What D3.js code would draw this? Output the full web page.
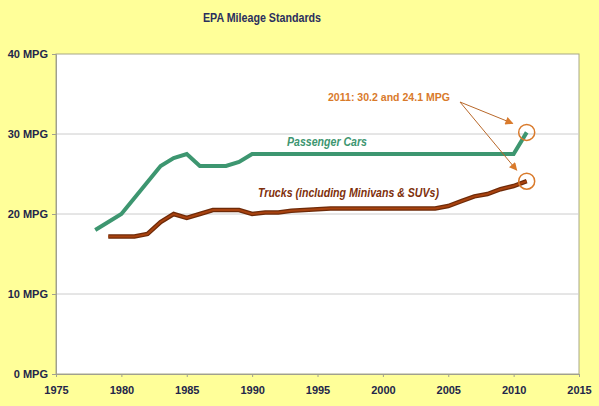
<!DOCTYPE html>
<html>
<head>
<meta charset="utf-8">
<script src="https://cdn.jsdelivr.net/npm/d3@7"></script>
<style>
  body { margin: 0; background: #ffff99; }
  svg { display: block; }
  text { font-family: "Liberation Sans", Arial, sans-serif; }
</style>
</head>
<body>
<div id="chart"></div>
<script>
// data
const carYears = [1978, 1979, 1980, 1981, 1982, 1983, 1984, 1985, 1986, 1987, 1988, 1989, 1990,
    1991, 1992, 1993, 1994, 1995, 1996, 1997, 1998, 1999, 2000, 2001, 2002, 2003, 2004, 2005,
    2006, 2007, 2008, 2009, 2010, 2011];
const carMpg = [18.0, 19.0, 20.0, 22.0, 24.0, 26.0, 27.0, 27.5, 26.0, 26.0, 26.0, 26.5, 27.5,
    27.5, 27.5, 27.5, 27.5, 27.5, 27.5, 27.5, 27.5, 27.5, 27.5, 27.5, 27.5, 27.5, 27.5, 27.5,
    27.5, 27.5, 27.5, 27.5, 27.5, 30.2];

const truckYears = [1979, 1980, 1981, 1982, 1983, 1984, 1985, 1986, 1987, 1988, 1989, 1990,
    1991, 1992, 1993, 1994, 1995, 1996, 1997, 1998, 1999, 2000, 2001, 2002, 2003, 2004, 2005,
    2006, 2007, 2008, 2009, 2010, 2011];
const truckMpg = [17.2, 17.2, 17.2, 17.5, 19.0, 20.0, 19.5, 20.0, 20.5, 20.5, 20.5, 20.0,
    20.2, 20.2, 20.4, 20.5, 20.6, 20.7, 20.7, 20.7, 20.7, 20.7, 20.7, 20.7, 20.7, 20.7, 21.0,
    21.6, 22.2, 22.5, 23.1, 23.5, 24.1];

const xTicks = [1975, 1980, 1985, 1990, 1995, 2000, 2005, 2010, 2015];
const yTicks = [0, 10, 20, 30, 40];

const W = 599, H = 406;
const margins = { top: 54, right: 20, bottom: 32, left: 56 };
const width = W - margins.left - margins.right;
const height = H - margins.top - margins.bottom;

const svg = d3.select("#chart")
    .append("svg")
        .attr("width", W)
        .attr("height", H);

svg.append("rect")
    .attr("width", W).attr("height", H)
    .attr("fill", "#ffff99");

// the source picture looks squeezed sideways, so the texts get a fixed length
svg.append("text")
    .attr("x", 203)
    .attr("y", 22)
    .attr("font-size", "12px")
    .attr("font-weight", "bold")
    .attr("fill", "#2b2f5e")
    .attr("textLength", 118)
    .attr("lengthAdjust", "spacingAndGlyphs")
    .text("EPA Mileage Standards");

const g = svg.append("g")
    .attr("transform", `translate(${margins.left}, ${margins.top})`);

const x = d3.scaleLinear().domain([1975, 2015]).range([0, width]);
const y = d3.scaleLinear().domain([0, 40]).range([height, 0]);

// plot area
g.append("rect")
    .attr("width", width).attr("height", height)
    .attr("fill", "#ffffff")
    .attr("stroke", "#a8a888")
    .attr("stroke-width", 1);

// gridlines
g.selectAll(".grid")
    .data(yTicks.filter(d => d > 0 && d < 40))
    .enter()
    .append("line")
        .attr("x1", 0).attr("x2", width)
        .attr("y1", d => y(d)).attr("y2", d => y(d))
        .attr("stroke", "#cccccc")
        .attr("stroke-width", 1);

// axes
const yAxis = g.append("g")
    .call(d3.axisLeft(y).tickValues(yTicks).tickSize(4).tickPadding(4)
        .tickFormat(d => `${d} MPG`));
const xAxis = g.append("g")
    .attr("transform", `translate(0, ${height})`)
    .call(d3.axisBottom(x).tickValues(xTicks).tickSize(3).tickPadding(9)
        .tickFormat(d3.format("d")));

[xAxis, yAxis].forEach(ax => {
    ax.select(".domain").attr("stroke", "#a0a090");
    ax.selectAll(".tick line").attr("stroke", "#a0a090");
    ax.selectAll(".tick text")
        .attr("font-size", "11px")
        .attr("font-weight", "bold")
        .attr("fill", "#23264a");
});

const line = d3.line()
    .x(d => x(d[0]))
    .y(d => y(d[1]));

const cars = carYears.map((yr, i) => [yr, carMpg[i]]);
const trucks = truckYears.map((yr, i) => [yr, truckMpg[i]]);

g.append("path")
    .datum(cars)
    .attr("d", line)
    .attr("fill", "none")
    .attr("stroke", "#3d9670")
    .attr("stroke-width", 4);

g.append("path")
    .datum(trucks)
    .attr("d", line)
    .attr("fill", "none")
    .attr("stroke", "#6e2a08")
    .attr("stroke-width", 4.5);
g.append("path")
    .datum(trucks)
    .attr("d", line)
    .attr("fill", "none")
    .attr("stroke", "#a8420f")
    .attr("stroke-width", 2);

// series labels
g.append("text")
    .attr("x", 231)
    .attr("y", 92)
    .attr("font-size", "12px")
    .attr("font-weight", "bold")
    .attr("font-style", "italic")
    .attr("fill", "#3d9670")
    .attr("textLength", 80)
    .attr("lengthAdjust", "spacingAndGlyphs")
    .text("Passenger Cars");

g.append("text")
    .attr("x", 202)
    .attr("y", 143)
    .attr("font-size", "12px")
    .attr("font-weight", "bold")
    .attr("font-style", "italic")
    .attr("fill", "#7e2f0b")
    .attr("textLength", 181)
    .attr("lengthAdjust", "spacingAndGlyphs")
    .text("Trucks (including Minivans & SUVs)");

// annotation
const orange = "#d97a2b";
g.append("text")
    .attr("x", 272)
    .attr("y", 47)
    .attr("font-size", "11px")
    .attr("font-weight", "bold")
    .attr("fill", orange)
    .attr("textLength", 122)
    .attr("lengthAdjust", "spacingAndGlyphs")
    .text("2011: 30.2 and 24.1 MPG");

svg.append("defs").append("marker")
    .attr("id", "arrow")
    .attr("viewBox", "0 0 10 10")
    .attr("refX", 9).attr("refY", 5)
    .attr("markerWidth", 9).attr("markerHeight", 8)
    .attr("markerUnits", "userSpaceOnUse")
    .attr("orient", "auto")
    .append("path")
        .attr("d", "M0,0 L10,5 L0,10 Z")
        .attr("fill", orange);

const arrowStart = [404, 48];
const arrowOffsets = [[-14, -9], [-10, -11]];
[[2011, 30.2], [2011, 24.1]].forEach((p, i) => {
    const tx = x(p[0]) + arrowOffsets[i][0];
    const ty = y(p[1]) + arrowOffsets[i][1];
    g.append("line")
        .attr("x1", arrowStart[0]).attr("y1", arrowStart[1])
        .attr("x2", tx).attr("y2", ty)
        .attr("stroke", "#b8682a")
        .attr("stroke-width", 1)
        .attr("marker-end", "url(#arrow)");
    g.append("circle")
        .attr("cx", x(p[0]))
        .attr("cy", y(p[1]))
        .attr("r", 8)
        .attr("fill", "none")
        .attr("stroke", orange)
        .attr("stroke-width", 1.5);
});
</script>
</body>
</html>
